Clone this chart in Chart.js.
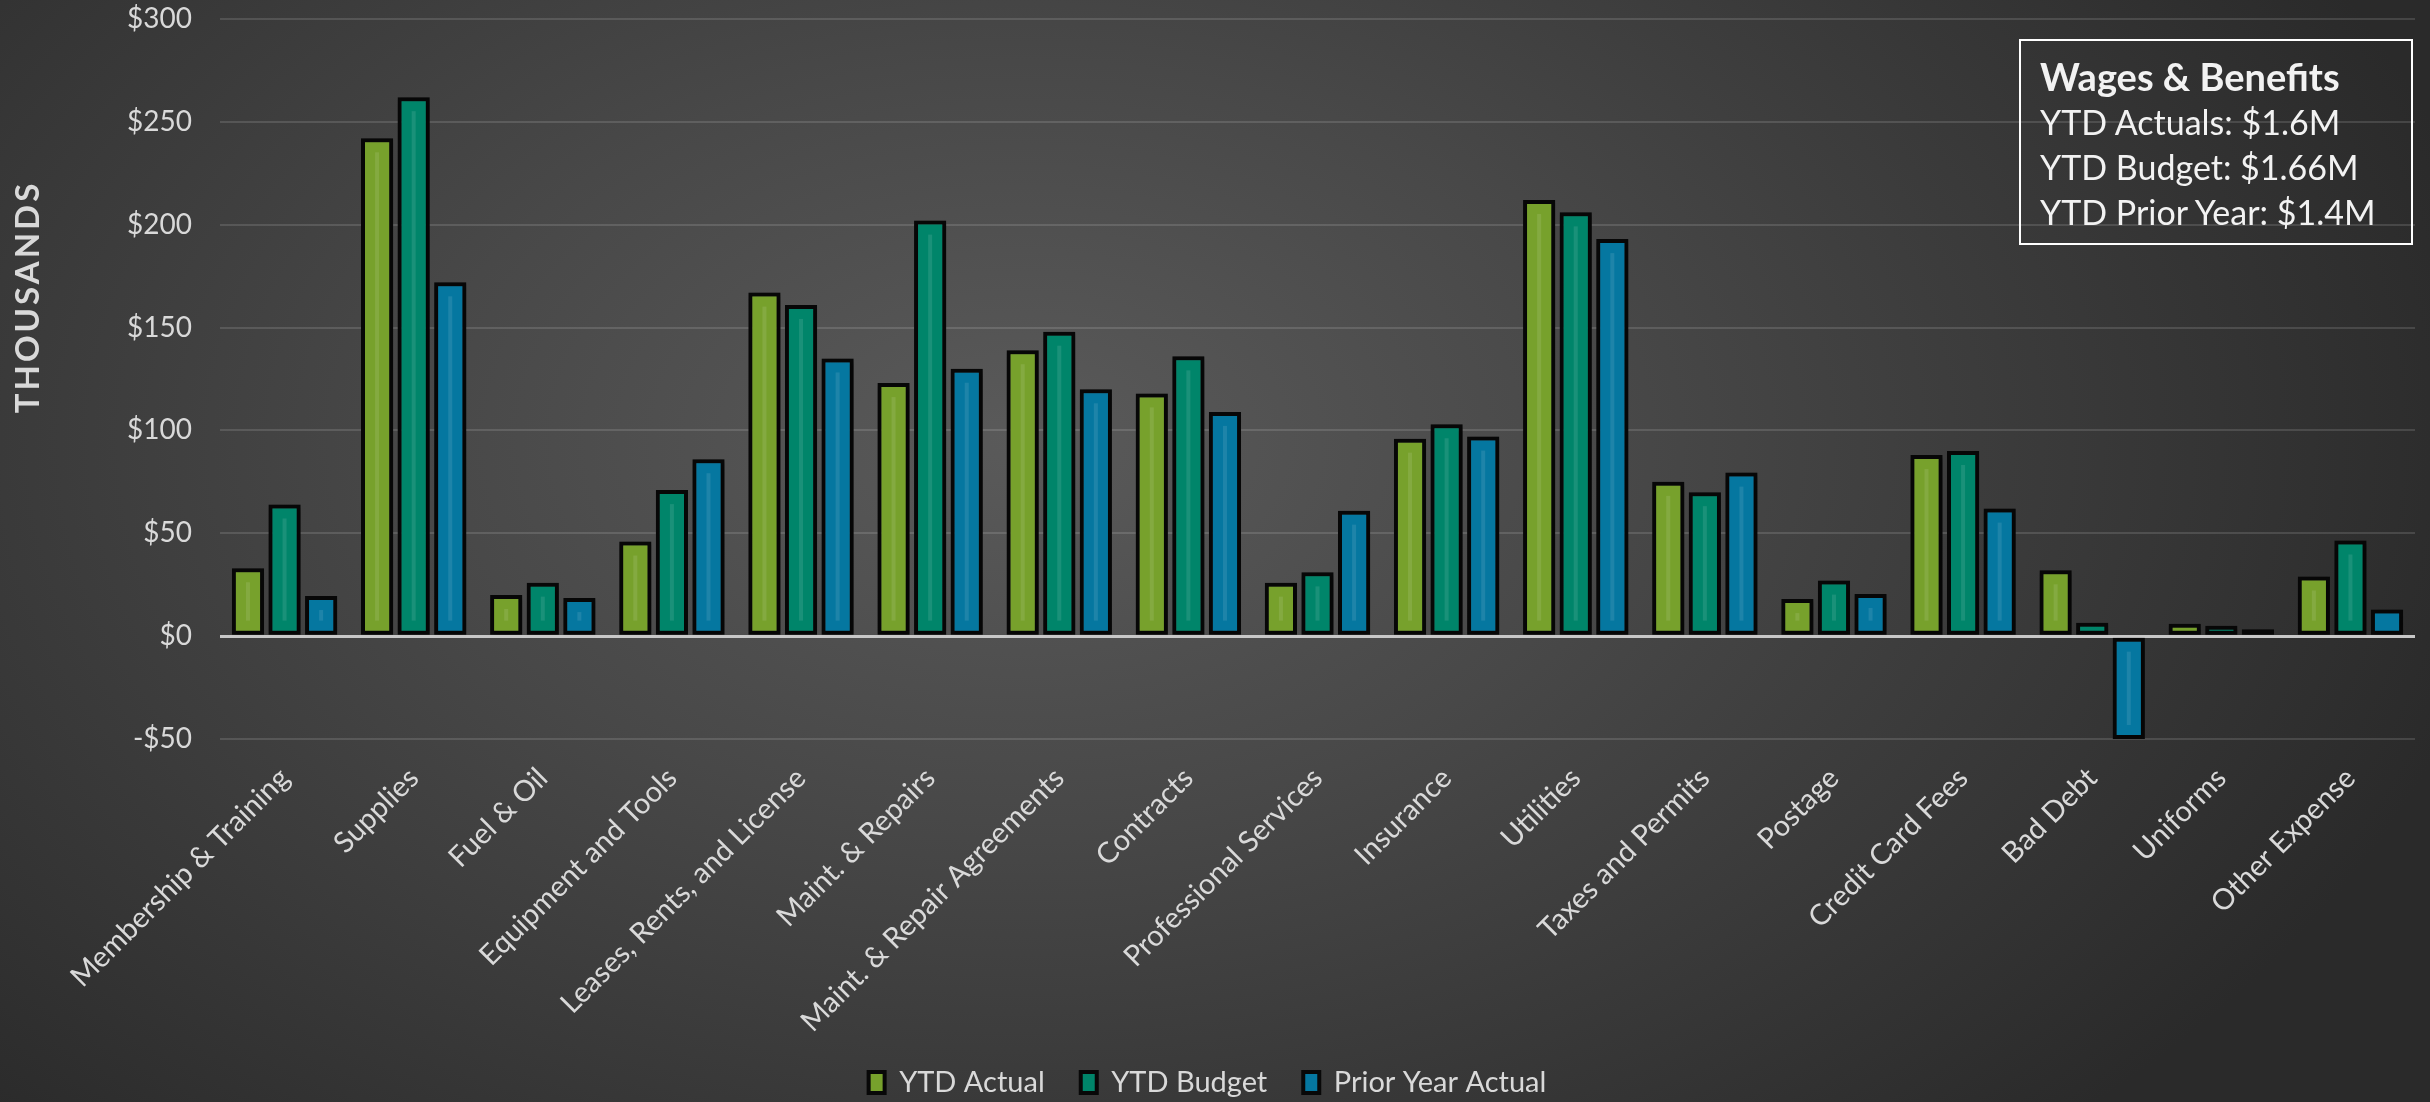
<!DOCTYPE html>
<html>
<head>
<meta charset="utf-8">
<script src="https://cdn.jsdelivr.net/npm/chart.js@4.4.1/dist/chart.umd.min.js"></script>
<style>
html,body{margin:0;padding:0;width:2430px;height:1102px;overflow:hidden;}
body{background:radial-gradient(ellipse 1500px 950px at 42% 40%, #5a5a5a 0%, #484848 40%, #2a2a2a 100%);}
#wrap{position:absolute;left:0;top:0;width:2430px;height:1102px;}
#box{position:absolute;left:2019px;top:39px;width:394px;height:206px;border:2px solid #ffffff;box-sizing:border-box;
  color:#f2f2f2;font-family:Lato,sans-serif;font-size:34px;line-height:45px;padding:13px 0 0 19px;}
#box .t{font-weight:bold;font-size:38px;}
</style>
</head>
<body>
<div id="wrap"><canvas id="c" width="2430" height="1102"></canvas></div>
<div id="box"><div class="t">Wages &amp; Benefits</div><div>YTD Actuals: $1.6M</div><div>YTD Budget: $1.66M</div><div>YTD Prior Year: $1.4M</div></div>
<script>
const categories = ["Membership & Training","Supplies","Fuel & Oil","Equipment and Tools","Leases, Rents, and License","Maint. & Repairs","Maint. & Repair Agreements","Contracts","Professional Services","Insurance","Utilities","Taxes and Permits","Postage","Credit Card Fees","Bad Debt","Uniforms","Other Expense"];
const ytdActual = [33, 242, 20, 46, 167, 123, 139, 118, 26, 96, 212, 75, 18, 88, 32, 6, 29];
const ytdBudget = [64, 262, 26, 71, 161, 202, 148, 136, 31, 103, 206, 70, 27, 90, 6.5, 5, 46.5];
const priorYearActual = [19.5, 172, 18.5, 86, 135, 130, 120, 109, 61, 97, 193, 79.5, 20.5, 62, -50, 3.3, 13];
const seriesNames = ["YTD Actual","YTD Budget","Prior Year Actual"];
const seriesColors = ["#77a12c","#00856a","#0577a0"];
const yTicks = {min:-50, max:300, step:50};
const yAxisTitle = "THOUSANDS";

const FONT = "Lato, 'Open Sans', sans-serif";
const TXT = "#d9d9d9";

const stylePlugin = {
  id:'styleExtras',
  beforeDatasetsDraw(chart){
    const ctx = chart.ctx;
    ctx.save();
    ctx.shadowColor = 'rgba(0,0,0,0.55)';
    ctx.shadowBlur = 6;
    ctx.shadowOffsetX = 1;
    ctx.shadowOffsetY = 2;
  },
  afterDatasetsDraw(chart){
    const ctx = chart.ctx;
    ctx.restore();
    // subtle centre highlight on each bar
    ctx.save();
    chart.data.datasets.forEach((ds, di) => {
      chart.getDatasetMeta(di).data.forEach(bar => {
        const top = Math.min(bar.y, bar.base), bot = Math.max(bar.y, bar.base);
        if (bot - top < 30) return;
        ctx.fillStyle = 'rgba(255,255,255,0.10)';
        ctx.fillRect(bar.x - 2, top + 14, 4, bot - top - 28);
      });
    });
    ctx.restore();
  },
  afterDraw(chart){
    const ctx = chart.ctx;
    ctx.save();
    ctx.translate(28, 297);
    ctx.rotate(-Math.PI/2);
    ctx.font = "bold 33px " + FONT;
    ctx.letterSpacing = "3px";
    ctx.textAlign = "center";
    ctx.textBaseline = "middle";
    ctx.fillStyle = TXT;
    ctx.fillText(yAxisTitle, 0, 0);
    ctx.restore();
  }
};

const data = {
  labels: categories,
  datasets: [ytdActual, ytdBudget, priorYearActual].map((vals,i)=>({
    label: seriesNames[i],
    data: vals,
    backgroundColor: seriesColors[i],
    borderColor: "#080808",
    borderWidth: 4,
    borderSkipped: false,
    categoryPercentage: 0.85,
    barPercentage: 0.88
  }))
};

new Chart(document.getElementById('c'), {
  type:'bar',
  data,
  plugins:[stylePlugin],
  options:{
    responsive:false,
    animation:false,
    layout:{padding:{top:19,right:15,left:0,bottom:-5}},
    plugins:{
      tooltip:{enabled:false},
      legend:{
        position:'bottom',
        labels:{color:TXT, font:{family:FONT,size:29}, boxWidth:16, boxHeight:21, padding:36}
      }
    },
    scales:{
      x:{
        grid:{display:false},
        border:{display:false},
        ticks:{color:TXT, font:{family:FONT,size:29}, minRotation:45, maxRotation:45, autoSkip:false, padding:14},
        afterFit(s){ s.height = 293; }
      },
      y:{
        min:yTicks.min, max:yTicks.max,
        border:{display:false},
        grid:{
          drawTicks:false,
          color:(c)=> c.tick && c.tick.value===0 ? '#c8c8c8' : 'rgba(255,255,255,0.13)',
          lineWidth:(c)=> c.tick && c.tick.value===0 ? 3 : 2
        },
        ticks:{
          stepSize:yTicks.step, color:TXT, font:{family:FONT,size:28}, padding:28,
          callback:(v)=> v<0 ? '-$'+Math.abs(v) : '$'+v
        },
        afterFit(s){ s.width = 220; s.paddingTop = 0; s.paddingBottom = 0; }
      }
    }
  }
});
</script>
</body>
</html>
